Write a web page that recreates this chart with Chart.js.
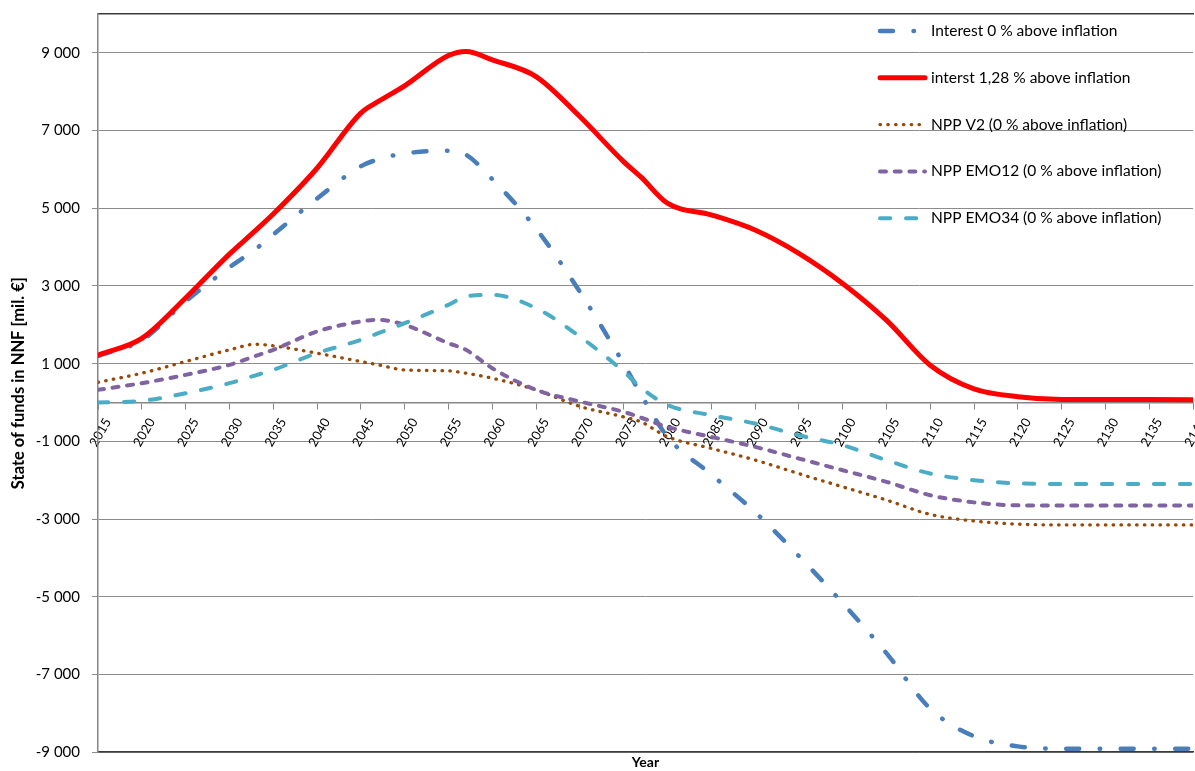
<!DOCTYPE html>
<html>
<head>
<meta charset="utf-8">
<script src="https://cdn.jsdelivr.net/npm/chart.js@4.4.1/dist/chart.umd.min.js"></script>
<style>
  html, body { margin: 0; padding: 0; background: #fff; }
  #wrap { width: 1195px; height: 771px; position: relative; }
</style>
</head>
<body>
<div id="wrap"><canvas id="c" width="1195" height="771"></canvas></div>
<script>
// ---- data ----
const years = [2015,2020,2025,2030,2033,2035,2040,2045,2047,2050,2055,2057,2060,2065,2070,2075,2077,2080,2085,2090,2095,2100,2105,2110,2115,2120,2125,2130,2135,2140];

const interest0 = [1200,1600,2600,3480,3950,4320,5250,6080,6260,6410,6480,6380,5750,4480,2850,1000,200,-880,-1850,-2820,-3950,-5160,-6450,-7880,-8590,-8850,-8910,-8910,-8910,-8910];
const interest128 = [1220,1650,2690,3820,4430,4850,6030,7450,7750,8150,8930,9035,8820,8390,7360,6200,5800,5130,4830,4440,3840,3065,2120,960,350,150,80,80,75,70];
const nppV2 = [520,755,1055,1356,1500,1460,1270,1055,970,840,815,755,626,326,-100,-370,-500,-880,-1180,-1480,-1830,-2170,-2510,-2880,-3050,-3130,-3150,-3150,-3150,-3150];
const nppEMO12 = [326,498,712,970,1200,1356,1828,2085,2128,2000,1527,1356,884,326,26,-240,-390,-626,-884,-1141,-1441,-1742,-2042,-2385,-2570,-2647,-2650,-2650,-2650,-2650];
const nppEMO34 = [0,43,240,498,700,841,1270,1613,1785,2042,2514,2728,2771,2428,1699,800,380,-60,-326,-541,-841,-1098,-1484,-1828,-1999,-2080,-2097,-2100,-2100,-2100];

const seriesLabels = [
  'Interest 0 % above inflation',
  'interst 1,28 % above inflation',
  'NPP V2 (0 % above inflation)',
  'NPP EMO12 (0 % above inflation)',
  'NPP EMO34 (0 % above inflation)'
];
const yTickValues = [-9000,-7000,-5000,-3000,-1000,1000,3000,5000,7000,9000];
const xTickStep = 5;
const yAxisTitle = 'State of funds in NNF [mil. €]';
const xAxisTitle = 'Year';

// ---- helpers ----
const pts = arr => arr.map((v, i) => ({x: years[i], y: v}));
const fmt = v => {
  const s = Math.abs(v).toString().replace(/\B(?=(\d{3})+(?!\d))/g, ' ');
  return (v < 0 ? '-' : '') + s;
};
const FONT = 'Lato';

const legendPlugin = {
  id: 'insideLegend',
  afterDraw(chart) {
    const ctx = chart.ctx;
    const x0 = 880, x1 = 925, tx = 931, y0 = 31, dy = 46.8;
    chart.data.datasets.forEach((ds, i) => {
      const y = y0 + i * dy;
      ctx.save();
      ctx.strokeStyle = ds.borderColor;
      ctx.lineWidth = ds.borderWidth;
      ctx.lineCap = ds.borderCapStyle || 'butt';
      ctx.setLineDash(ds.borderDash || []);
      ctx.beginPath();
      ctx.moveTo(x0, y);
      ctx.lineTo(x1, y);
      ctx.stroke();
      ctx.setLineDash([]);
      ctx.fillStyle = '#000';
      ctx.font = '15.5px ' + FONT;
      ctx.textBaseline = 'middle';
      ctx.textAlign = 'left';
      ctx.fillText(ds.label, tx, y);
      ctx.restore();
    });
  }
};

new Chart(document.getElementById('c'), {
  type: 'line',
  data: {
    datasets: [
      { label: seriesLabels[0], data: pts(interest0), borderColor: '#4a7ebb', borderWidth: 4.5,
        borderDash: [13, 20.5, 0.5, 20.5], borderCapStyle: 'round', order: 5 },
      { label: seriesLabels[1], data: pts(interest128), borderColor: '#ff0000', borderWidth: 5,
        borderCapStyle: 'round', order: 4 },
      { label: seriesLabels[2], data: pts(nppV2), borderColor: '#984807', borderWidth: 3.3,
        borderDash: [0.5, 7.3], borderCapStyle: 'round', order: 3 },
      { label: seriesLabels[3], data: pts(nppEMO12), borderColor: '#8064a2', borderWidth: 4,
        borderDash: [6, 8.7], borderCapStyle: 'round', order: 2 },
      { label: seriesLabels[4], data: pts(nppEMO34), borderColor: '#4bacc6', borderWidth: 4,
        borderDash: [10.3, 15.7], borderCapStyle: 'round', order: 1 }
    ]
  },
  options: {
    responsive: false,
    animation: false,
    events: [],
    layout: { padding: { top: 14, right: 2, bottom: 0, left: 0 } },
    elements: {
      point: { radius: 0 },
      line: { cubicInterpolationMode: 'monotone', fill: false }
    },
    plugins: { legend: { display: false }, tooltip: { enabled: false }, title: { display: false } },
    scales: {
      x: {
        type: 'linear',
        position: { y: 0 },
        min: years[0],
        max: years[years.length - 1],
        grid: { drawOnChartArea: false, drawTicks: true, tickLength: 6, color: '#868686', lineWidth: 1 },
        border: { display: true, color: '#868686', width: 1.5 },
        ticks: {
          stepSize: xTickStep,
          autoSkip: false,
          minRotation: 60,
          maxRotation: 60,
          labelOffset: 10,
          padding: 7,
          color: '#000',
          font: { family: FONT, size: 13 },
          callback: v => String(v)
        },
        afterFit(s) { s.paddingLeft = 0; s.paddingRight = 0; }
      },
      xTop: {
        type: 'linear',
        position: 'top',
        min: years[0],
        max: years[years.length - 1],
        grid: { display: false, drawTicks: false },
        border: { display: true, color: '#3a3a3a', width: 1.5 },
        ticks: { display: false },
        afterFit(s) { s.height = 0; s.paddingLeft = 0; s.paddingRight = 0; }
      },
      xBottom: {
        type: 'linear',
        position: 'bottom',
        min: years[0],
        max: years[years.length - 1],
        grid: { display: false, drawTicks: false },
        border: { display: true, color: '#3a3a3a', width: 1.5 },
        ticks: { display: false },
        title: { display: true, text: xAxisTitle, color: '#000',
                 font: { family: FONT, size: 14, weight: 'bold' }, padding: { top: 2, bottom: 0 } },
        afterFit(s) { s.paddingLeft = 0; s.paddingRight = 0; }
      },
      y: {
        type: 'linear',
        position: 'left',
        min: -9000,
        max: 10000,
        afterBuildTicks(s) { s.ticks = yTickValues.map(v => ({ value: v })); },
        grid: { color: '#8c8c8c', lineWidth: 1, tickLength: 6, drawTicks: true },
        border: { display: true, color: '#868686', width: 1.5 },
        ticks: { padding: 12, color: '#000', font: { family: FONT, size: 15 }, callback: v => fmt(v) },
        title: { display: true, text: yAxisTitle, color: '#000',
                 font: { family: FONT, size: 16.5, weight: 'bold' }, padding: { top: 9, bottom: 0 } },
        afterFit(s) { s.width = 98; s.paddingTop = 0; s.paddingBottom = 0; }
      }
    }
  },
  plugins: [legendPlugin]
});
</script>
</body>
</html>
